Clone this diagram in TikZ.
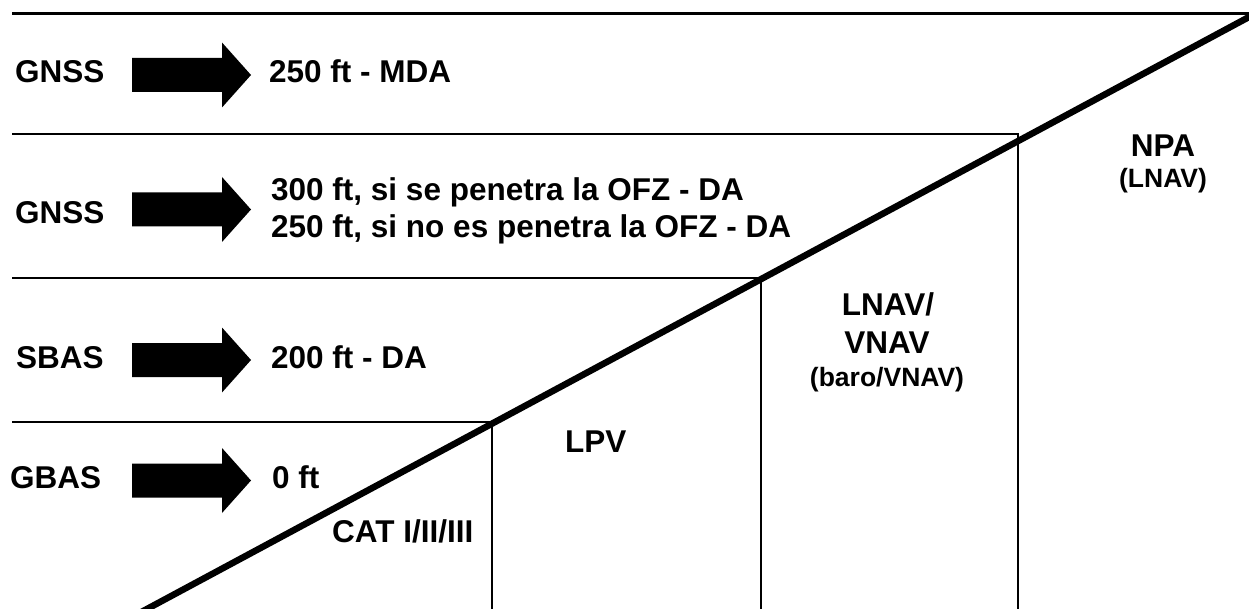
\documentclass[tikz,border=0pt]{standalone}
\usepackage{fontspec}
\setmainfont{Liberation Sans}
\begin{document}
\begin{tikzpicture}[x=1pt,y=-1pt,
  lbl/.style={inner sep=0pt, font=\fontsize{31.5}{37}\selectfont\bfseries, anchor=base west},
  lblc/.style={inner sep=0pt, font=\fontsize{31.5}{37}\selectfont\bfseries, anchor=base},
  lblsmall/.style={inner sep=0pt, font=\fontsize{26.5}{30}\selectfont\bfseries, anchor=base},
  rule/.style={line width=2pt},
  toprule/.style={line width=3pt},
  slope/.style={line width=6.5pt},
  blockarrow/.pic={\fill (0,-17) -- (90,-17) -- (90,-32.5) -- (119,0) -- (90,32.5) -- (90,17) -- (0,17) -- cycle;}]
\useasboundingbox (0,0) rectangle (1249,609);
% grid of levels
\coordinate (c1) at (492,422);
\coordinate (c2) at (761,278);
\coordinate (c3) at (1018,134);
\draw[toprule] (12,14) -- (1249,14);
\draw[rule] (12,134) -- (c3) -- (1018,609);
\draw[rule] (12,278) -- (c2) -- (761,609);
\draw[rule] (12,422) -- (c1) -- (492,609);
\begin{scope}
\clip (0,0) rectangle (1249,609);
\coordinate (s0) at (126.5,620);
\coordinate (s1) at (1260,11.1);
\draw[slope] (s0) -- (s1);
\end{scope}
% arrows
\pic at (132,75) {blockarrow};
\pic at (132,209.5) {blockarrow};
\pic at (132,360) {blockarrow};
\pic at (132,480.5) {blockarrow};
% left labels
\node[lbl] (g1) at (15,83) {GNSS};
\node[lbl] (g2) at (15,224) {GNSS};
\node[lbl] (sb) at (16,368) {SBAS};
\node[lbl] (gb) at (10,488) {GBAS};
% results
\node[lbl] (r1) at (269,83) {250 ft - MDA};
\node[lbl] (r2a) at (271,201) {300 ft, si se penetra la OFZ - DA};
\node[lbl] (r2b) at (271,238) {250 ft, si no es penetra la OFZ - DA};
\node[lbl] (r3) at (271,368) {200 ft - DA};
\node[lbl] (r4) at (272,488) {0 ft};
% categories
\node[lbl] (cat) at (332,542) {CAT I/II/III};
\node[lbl] (lpv) at (565,452) {LPV};
\node[lblc] (lv1) at (888,316) {LNAV/};
\node[lblc] (lv2) at (887,353) {VNAV};
\node[lblsmall] (lv3) at (887,386) {(baro/VNAV)};
\node[lblc] (npa) at (1163,157) {NPA};
\node[lblsmall] (npa2) at (1163,188) {(LNAV)};
\end{tikzpicture}
\end{document}
